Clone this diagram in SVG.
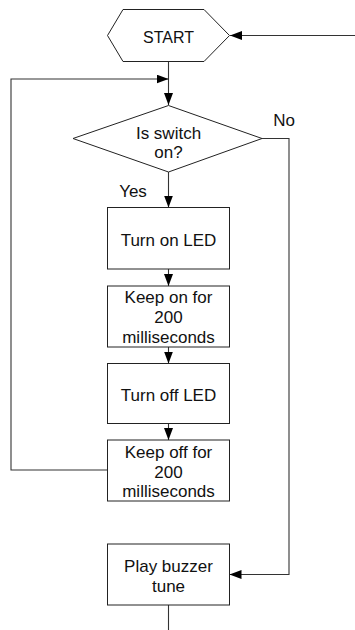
<svg xmlns="http://www.w3.org/2000/svg" width="355" height="630" viewBox="0 0 355 630">
<style>
.shape{fill:#fff;stroke:#222;stroke-width:1}
.t{font-family:"Liberation Sans",Arial,sans-serif;font-size:17px;fill:#111;text-anchor:middle}
.c{fill:none;stroke:#333;stroke-width:1.1}
</style>
<defs>
<marker id="ah" markerUnits="userSpaceOnUse" markerWidth="13" markerHeight="10" refX="12" refY="4.5" orient="auto">
<path d="M0,0 L12,4.5 L0,9 Z" fill="#000"/>
</marker>
</defs>
<rect width="355" height="630" fill="#fff"/>
<g id="connectors">
<path class="c" d="M355,35.5 H230" marker-end="url(#ah)"/>
<path class="c" d="M168.5,62 V105" marker-end="url(#ah)"/>
<path class="c" d="M107,470 H11 V79 H168.5" marker-end="url(#ah)"/>
<path class="c" d="M168.5,172 V207.5" marker-end="url(#ah)"/>
<path class="c" d="M168.5,269 V286" marker-end="url(#ah)"/>
<path class="c" d="M168.5,347 V363.5" marker-end="url(#ah)"/>
<path class="c" d="M168.5,423 V440" marker-end="url(#ah)"/>
<path class="c" d="M262,138.5 H289 V574.5 H229.5" marker-end="url(#ah)"/>
<path class="c" d="M168.5,605 V630"/>
</g>
<g id="start">
<polygon class="shape" points="107.5,35.5 123,9.5 204,9.5 229.5,35.5 204,61.5 123,61.5"/>
<text class="t" x="168.5" y="43" style="font-size:16px">START</text>
</g>
<g id="decision">
<polygon class="shape" points="168.5,105.5 262,138.5 168.5,172 73,138.5"/>
<text class="t" x="168.5" y="139">Is switch</text>
<text class="t" x="168.5" y="157.5">on?</text>
</g>
<text class="t" x="284" y="126">No</text>
<text class="t" x="133" y="196.5">Yes</text>
<g id="turn-on">
<rect class="shape" x="107.5" y="207.5" width="122" height="61.5"/>
<text class="t" x="168.5" y="245.5">Turn on LED</text>
</g>
<g id="keep-on">
<rect class="shape" x="107.5" y="286" width="122" height="61"/>
<text class="t" x="168.5" y="303.3">Keep on for</text>
<text class="t" x="168.5" y="323">200</text>
<text class="t" x="168.5" y="342.5">milliseconds</text>
</g>
<g id="turn-off">
<rect class="shape" x="107.5" y="363.5" width="122" height="60"/>
<text class="t" x="168.5" y="401">Turn off LED</text>
</g>
<g id="keep-off">
<rect class="shape" x="107.5" y="440" width="122" height="61"/>
<text class="t" x="168.5" y="458.3">Keep off for</text>
<text class="t" x="168.5" y="477.7">200</text>
<text class="t" x="168.5" y="497.3">milliseconds</text>
</g>
<g id="buzzer">
<rect class="shape" x="107.5" y="544" width="122" height="61"/>
<text class="t" x="168.5" y="572.3">Play buzzer</text>
<text class="t" x="168.5" y="591.7">tune</text>
</g>
</svg>
